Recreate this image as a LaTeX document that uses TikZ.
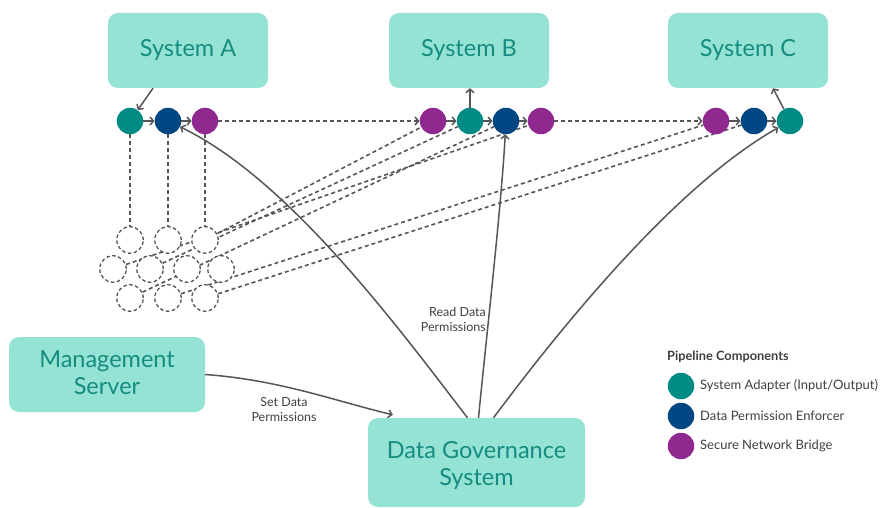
\documentclass[tikz,border=0pt]{standalone}
\usepackage{fontspec}
\setmainfont{Lato}
\usetikzlibrary{arrows.meta,backgrounds}

\definecolor{mint}{HTML}{94E3D5}
\definecolor{boxtext}{HTML}{168C80}
\definecolor{adapter}{HTML}{008B84}
\definecolor{enforcer}{HTML}{004682}
\definecolor{bridge}{HTML}{8F2990}
\definecolor{wire}{HTML}{555555}
\definecolor{labelgray}{HTML}{3F3F3F}

\tikzset{
  sysbox/.style={rounded corners=10pt, fill=mint, draw=none, text=boxtext,
    align=center, inner sep=0pt, font=\fontsize{23.5}{25.5}\selectfont},
  boxlabel/.style={text=boxtext, align=center, inner sep=0pt, font=\fontsize{23.5}{26.5}\selectfont},
  pipedot/.style={circle, minimum size=26.5pt, inner sep=0pt, draw=none},
  adapterdot/.style={pipedot, fill=adapter},
  enforcerdot/.style={pipedot, fill=enforcer},
  bridgedot/.style={pipedot, fill=bridge},
  pooldot/.style={circle, minimum size=26.5pt, inner sep=0pt, draw=wire, fill=white,
    line width=1.3pt, dash pattern=on 3.5pt off 2.5pt},
  barbtip/.style={-{Straight Barb[length=3.5pt,width=8pt]}},
  flow/.style={draw=wire, line width=1.5pt},
  dashflow/.style={draw=wire, line width=1.6pt, dash pattern=on 4pt off 3pt},
  lbl/.style={text=labelgray, font=\fontsize{12.5}{15}\selectfont, inner sep=0pt},
  legendtxt/.style={text=labelgray, font=\fontsize{13}{15}\selectfont, anchor=west, inner sep=0pt},
}

\begin{document}
\begin{tikzpicture}[x=1pt, y=-1pt]
\useasboundingbox (0,0) rectangle (880,508);

% systems
\node[sysbox, minimum width=160pt, minimum height=75pt] (sysA) at (188,50.5) {System A};
\node[sysbox, minimum width=160pt, minimum height=75pt] (sysB) at (469,50.5) {System B};
\node[sysbox, minimum width=160pt, minimum height=75pt] (sysC) at (748,50.5) {System C};
\node[sysbox, minimum width=196pt, minimum height=75pt] (mgmt) at (107,374.5) {};
\node[boxlabel] (mgmttext) at (107,372.5) {Management\\Server};
\node[sysbox, minimum width=217pt, minimum height=89pt] (dgs) at (476.5,462.5) {};
\node[boxlabel] (dgstext) at (476.5,465.5) {Data Governance\\System};

% pipeline components
\node[adapterdot]  (aad)  at (130,121) {};
\node[enforcerdot] (aen)  at (168,121) {};
\node[bridgedot]   (abr)  at (205,121) {};
\node[bridgedot]   (bbr1) at (433,121) {};
\node[adapterdot]  (bad)  at (470,121) {};
\node[enforcerdot] (ben)  at (506,121) {};
\node[bridgedot]   (bbr2) at (541,121) {};
\node[bridgedot]   (cbr)  at (716,121) {};
\node[enforcerdot] (cen)  at (754,121) {};
\node[adapterdot]  (cad)  at (790,121) {};

% network pool
\node[pooldot] (q11) at (130,240) {};
\node[pooldot] (q12) at (168,240) {};
\node[pooldot] (q13) at (205,240) {};
\node[pooldot] (q21) at (113,269) {};
\node[pooldot] (q22) at (150,269) {};
\node[pooldot] (q23) at (187,269) {};
\node[pooldot] (q24) at (221,269) {};
\node[pooldot] (q31) at (130,298) {};
\node[pooldot] (q32) at (168,298) {};
\node[pooldot] (q33) at (205,298) {};

% dashed links through the pool
\begin{pgfonlayer}{background}
  \draw[dashflow] (aad) -- (q11);
  \draw[dashflow] (aen) -- (q12);
  \draw[dashflow] (abr) -- (q13);
  \draw[dashflow] (q13) -- (bbr1);
  \draw[dashflow] (q22) -- (bad);
  \draw[dashflow] (q31) -- (ben);
  \draw[dashflow] (q21) -- (bbr2);
  \draw[dashflow] (q32) -- (cbr);
  \draw[dashflow] (q33) -- (cen);
\end{pgfonlayer}
\draw[dashflow, barbtip] (abr) -- (bbr1);
\draw[dashflow, barbtip] (bbr2) -- (cbr);

% pipeline steps
\draw[flow, barbtip] ([xshift=-35pt]sysA.south) -- (aad);
\draw[flow, barbtip] (aad) -- (aen);
\draw[flow, barbtip] (aen) -- (abr);
\draw[flow, barbtip] (bbr1) -- (bad);
\draw[flow, barbtip] (bad) -- (ben);
\draw[flow, barbtip] (ben) -- (bbr2);
\draw[flow, barbtip] (bad) -- (bad |- sysB.south);
\draw[flow, barbtip] (cbr) -- (cen);
\draw[flow, barbtip] (cen) -- (cad);
\draw[flow, barbtip] (cad) -- ([xshift=25pt]sysC.south);

% permission flows
\draw[flow, barbtip] (mgmt.east) .. controls (280,380) and (335,401) .. ([xshift=25pt,yshift=3pt]dgs.north west);
\draw[flow, barbtip] ([xshift=-9pt]dgs.north) .. controls (400,330) and (290,180) .. (aen);
\draw[flow, barbtip] ([xshift=2pt]dgs.north) .. controls (486,340) and (501,210) .. (ben);
\draw[flow, barbtip] ([xshift=17pt]dgs.north) .. controls (565,322) and (677,185) .. (cad);

\node[lbl, align=center] (setlbl) at (284,410) {Set Data\\Permissions};
\node[lbl, align=right, anchor=east] (readlbl) at (486,319) {Read Data\\Permissions};

% legend
\node[legendtxt, font=\fontsize{12.8}{15}\selectfont\bfseries] (legtitle) at (667,357) {Pipeline Components};
\node[adapterdot]  (lad) at (681,386) {};
\node[enforcerdot] (len) at (681,416) {};
\node[bridgedot]   (lbr) at (681,446) {};
\node[legendtxt] (ladtxt) at (700,386) {System Adapter (Input/Output)};
\node[legendtxt] (lentxt) at (700,416) {Data Permission Enforcer};
\node[legendtxt] (lbrtxt) at (700,446) {Secure Network Bridge};
\end{tikzpicture}
\end{document}
